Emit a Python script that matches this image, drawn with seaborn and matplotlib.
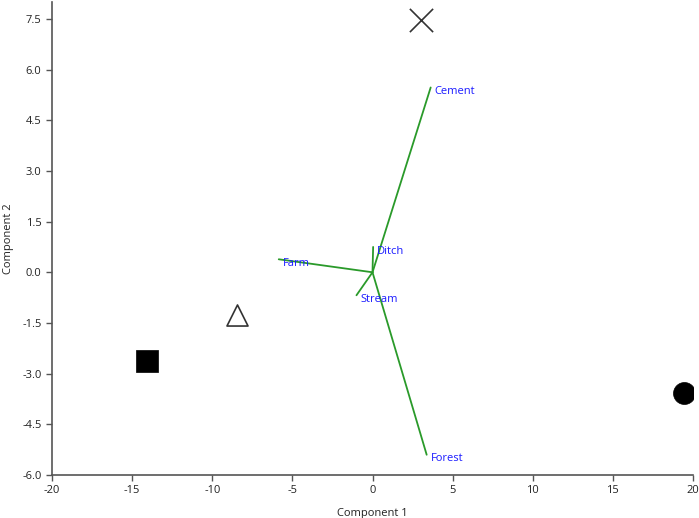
import numpy as np
import pandas as pd
import seaborn as sns
import matplotlib.pyplot as plt
from matplotlib.ticker import FormatStrFormatter

# sample scores (component 1, component 2)
score_x = [3.0, -8.45, -14.1, 19.45]
score_y = [7.48, -1.27, -2.63, -3.58]
score_marker = ["x", "^", "s", "o"]
score_filled = [False, False, True, True]

# variable loadings
var_names = ["Cement", "Forest", "Farm", "Ditch", "Stream"]
load_x = [3.63, 3.38, -5.85, 0.04, -1.0]
load_y = [5.47, -5.40, 0.385, 0.75, -0.68]

x_ticks = [-20, -15, -10, -5, 0, 5, 10, 15, 20]
y_ticks = [-6.0, -4.5, -3.0, -1.5, 0.0, 1.5, 3.0, 4.5, 6.0, 7.5]

sns.set_style("ticks")
plt.rcParams["font.family"] = ["Open Sans", "DejaVu Sans"]
plt.rcParams["axes.unicode_minus"] = False

fig = plt.figure(figsize=(6.99, 5.18), dpi=100)
ax = fig.add_axes([52 / 699, 43 / 518, 641 / 699, 473 / 518])

scores = pd.DataFrame({"c1": score_x, "c2": score_y})
for i in range(len(scores)):
    m = score_marker[i]
    if m == "x":
        sns.scatterplot(x=[score_x[i]], y=[score_y[i]], marker="x", s=280,
                        color="#333333", linewidth=1.2, ax=ax, zorder=3)
    elif score_filled[i]:
        sns.scatterplot(x=[score_x[i]], y=[score_y[i]], marker=m, s=250,
                        color="black", edgecolor="black", linewidth=0.5,
                        ax=ax, zorder=3)
    else:
        sns.scatterplot(x=[score_x[i]], y=[score_y[i]], marker=m, s=230,
                        facecolor="white", edgecolor="#333333", linewidth=1.2,
                        ax=ax, zorder=3)

for name, lx, ly in zip(var_names, load_x, load_y):
    ax.plot([0, lx], [0, ly], color="#2a9a2a", lw=1.3, zorder=2)
    ax.annotate(name, (lx, ly), xytext=(3, -3), textcoords="offset points",
                color="#1a1aff", fontsize=8, ha="left", va="center")

ax.set_xlim(-20, 20)
ax.set_ylim(-6, 8)
ax.set_xticks(x_ticks)
ax.set_yticks(y_ticks)
ax.yaxis.set_major_formatter(FormatStrFormatter("%.1f"))
ax.tick_params(labelsize=8, length=4, width=1, color="#555555", labelcolor="#222222")
for side in ["left", "bottom"]:
    ax.spines[side].set_color("#555555")
    ax.spines[side].set_linewidth(1.2)
sns.despine(ax=ax)

ax.set_xlabel("Component 1", fontsize=8, color="#222222", labelpad=8)
ax.set_ylabel("Component 2", fontsize=8, color="#222222", labelpad=6)

fig.savefig("out.png", dpi=100)
